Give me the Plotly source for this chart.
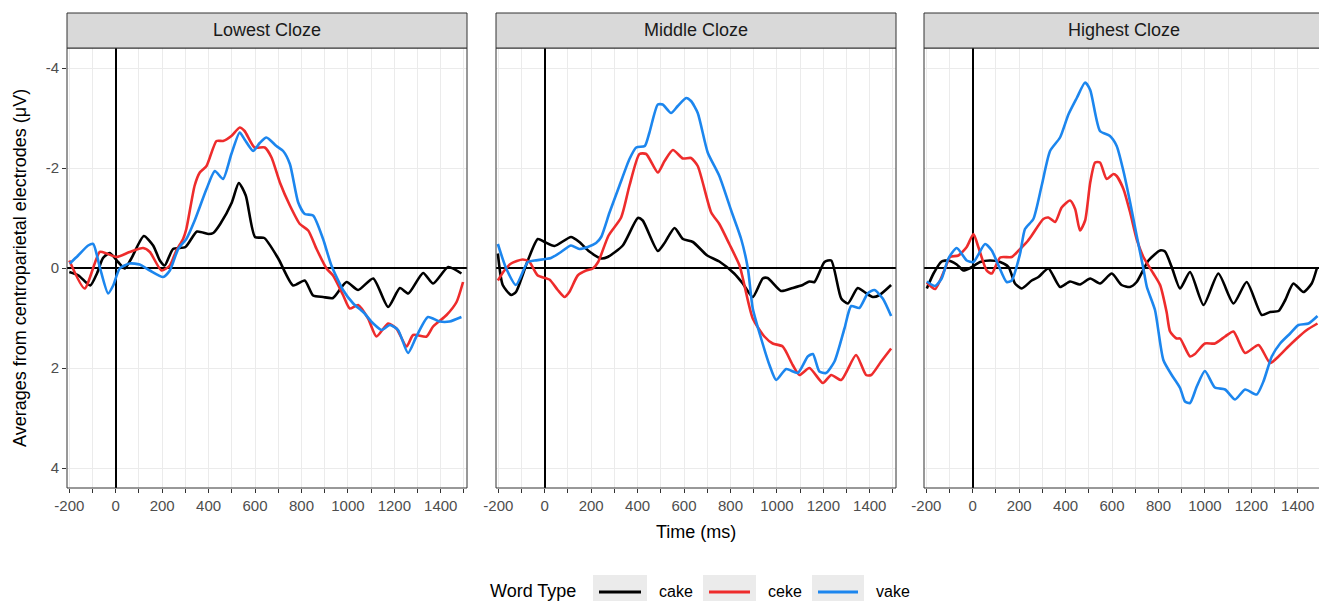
import plotly.graph_objects as go

# ---------------- data (time in ms, amplitude in microvolts) ----------------
panel_titles = ["Lowest Cloze", "Middle Cloze", "Highest Cloze"]
word_types = ["cake", "ceke", "vake"]
word_colors = ["#000000", "#EE2C2C", "#1C86EE"]

x_tick_values = list(range(-200, 1501, 100))
x_tick_labels = [str(v) if v % 200 == 0 and v <= 1400 else "" for v in x_tick_values]
y_tick_values = [-4, -2, 0, 2, 4]
y_tick_labels = ["-4", "-2", "0", "2", "4"]

# Lowest Cloze
low_cake_t = [-200, -160, -110, -80, -55, -26, 10, 39, 67, 121, 161, 190, 211, 247, 300, 350, 400, 420, 450, 500,
              530, 560, 600, 640, 700, 764, 814, 850, 893, 936, 994, 1044, 1109, 1173, 1224, 1260, 1324, 1367, 1432, 1489]
low_cake_v = [0.08, 0.15, 0.35, 0.1, -0.2, -0.3, -0.12, 0.01, -0.19, -0.64, -0.45, -0.15, -0.05, -0.38, -0.42, -0.73,
              -0.68, -0.7, -0.88, -1.31, -1.70, -1.45, -0.62, -0.6, -0.19, 0.35, 0.25, 0.55, 0.58, 0.6, 0.28, 0.44,
              0.21, 0.78, 0.4, 0.51, 0.1, 0.31, -0.02, 0.11]
low_ceke_t = [-200, -134, -69, -40, 3, 60, 118, 147, 197, 233, 261, 290, 304, 340, 362, 391, 434, 462, 498, 534,
              555, 598, 642, 671, 707, 750, 793, 829, 865, 908, 936, 979, 1008, 1044, 1087, 1123, 1173, 1209, 1253,
              1281, 1339, 1367, 1425, 1468, 1496]
low_ceke_v = [-0.15, 0.41, -0.32, -0.29, -0.22, -0.32, -0.4, -0.32, 0.05, -0.05, -0.35, -0.58, -0.78, -1.65, -1.91,
              -2.04, -2.54, -2.54, -2.64, -2.81, -2.74, -2.41, -2.41, -2.21, -1.71, -1.25, -0.88, -0.75, -0.38, 0.01,
              0.15, 0.54, 0.81, 0.74, 1.01, 1.37, 1.11, 1.21, 1.57, 1.34, 1.37, 1.17, 0.94, 0.68, 0.28]
low_vake_t = [-198, -162, -119, -97, -69, -33, -11, 17, 60, 103, 147, 204, 233, 269, 304, 340, 391, 427, 462, 498,
              534, 555, 592, 620, 649, 692, 721, 750, 786, 814, 850, 893, 929, 979, 1023, 1066, 1109, 1145, 1181,
              1216, 1259, 1295, 1345, 1395, 1438, 1489]
low_vake_v = [-0.09, -0.25, -0.45, -0.48, -0.02, 0.51, 0.35, 0.01, -0.09, -0.07, 0.05, 0.18, 0.05, -0.38, -0.58,
              -0.95, -1.58, -1.94, -1.78, -2.28, -2.71, -2.57, -2.34, -2.5, -2.61, -2.44, -2.34, -2.08, -1.31, -1.08,
              -1.05, -0.58, -0.05, 0.44, 0.71, 0.88, 1.11, 1.24, 1.14, 1.24, 1.70, 1.37, 0.98, 1.07, 1.07, 0.98]

# Middle Cloze
mid_cake_t = [-202, -181, -145, -124, -73, -30, -1, 42, 113, 149, 192, 243, 271, 336, 401, 422, 487, 516, 559, 595,
              638, 700, 752, 816, 853, 896, 939, 960, 1018, 1068, 1111, 1140, 1162, 1205, 1234, 1277, 1306, 1348,
              1377, 1413, 1442, 1492]
mid_cake_v = [-0.29, 0.34, 0.54, 0.48, -0.15, -0.58, -0.52, -0.44, -0.62, -0.52, -0.33, -0.19, -0.22, -0.45, -1.0,
              -0.95, -0.34, -0.5, -0.8, -0.58, -0.52, -0.25, -0.13, 0.11, 0.31, 0.58, 0.21, 0.2, 0.46, 0.4, 0.34,
              0.27, 0.28, -0.12, -0.15, 0.61, 0.71, 0.4, 0.48, 0.58, 0.54, 0.34]
mid_ceke_t = [-202, -174, -145, -95, -66, -30, 20, 56, 85, 106, 142, 178, 207, 230, 275, 329, 365, 408, 437, 487,
              516, 552, 595, 630, 659, 717, 752, 795, 839, 853, 896, 946, 982, 1025, 1068, 1097, 1140, 1198, 1234,
              1277, 1341, 1384, 1406, 1449, 1492]
mid_ceke_v = [0.25, 0.05, -0.09, -0.17, -0.12, 0.15, 0.23, 0.44, 0.58, 0.48, 0.15, 0.05, 0.01, -0.12, -0.65, -1.01,
              -1.65, -2.28, -2.28, -1.91, -2.14, -2.36, -2.19, -2.2, -2.04, -1.11, -0.88, -0.48, -0.05, 0.2, 1.01,
              1.37, 1.51, 1.57, 1.94, 2.14, 2.0, 2.3, 2.14, 2.24, 1.74, 2.14, 2.14, 1.87, 1.61]
mid_vake_t = [-202, -166, -124, -73, -44, 27, 70, 113, 149, 185, 221, 243, 279, 322, 365, 394, 431, 451, 487, 508,
              544, 573, 609, 630, 659, 702, 752, 803, 846, 875, 896, 932, 968, 997, 1040, 1090, 1133, 1155, 1183,
              1211, 1248, 1291, 1320, 1355, 1391, 1420, 1456, 1492]
mid_vake_v = [-0.48, 0.01, 0.34, -0.12, -0.15, -0.2, -0.32, -0.45, -0.38, -0.42, -0.5, -0.62, -1.11, -1.65, -2.18,
              -2.41, -2.44, -2.71, -3.27, -3.27, -3.1, -3.24, -3.4, -3.34, -3.1, -2.31, -1.84, -1.15, -0.58, 0.01,
              0.81, 1.41, 1.94, 2.24, 2.02, 2.1, 1.77, 1.72, 2.07, 2.1, 1.87, 1.21, 0.76, 0.8, 0.51, 0.44, 0.61, 0.96]

# Highest Cloze
high_cake_t = [-198, -169, -134, -105, -69, -40, -11, 32, 75, 118, 154, 182, 211, 254, 283, 326, 376, 419, 462, 506,
               548, 599, 641, 677, 706, 757, 807, 828, 857, 893, 936, 994, 1058, 1123, 1180, 1245, 1281, 1317, 1346,
               1381, 1424, 1460, 1482]
high_cake_v = [0.41, 0.11, -0.13, -0.15, -0.07, 0.05, 0.0, -0.12, -0.15, -0.12, -0.02, 0.31, 0.41, 0.25, 0.18, 0.01,
               0.38, 0.27, 0.33, 0.21, 0.31, 0.11, 0.34, 0.38, 0.28, -0.15, -0.35, -0.33, -0.02, 0.41, 0.08, 0.74,
               0.11, 0.71, 0.28, 0.94, 0.88, 0.86, 0.64, 0.31, 0.48, 0.31, 0.01]
high_ceke_t = [-198, -162, -119, -98, -62, -26, 3, 24, 60, 82, 118, 168, 204, 233, 254, 304, 326, 355, 383, 419,
               441, 462, 484, 506, 527, 548, 577, 606, 620, 649, 678, 706, 735, 778, 807, 835, 850, 878, 893, 936,
               957, 1000, 1043, 1087, 1123, 1173, 1231, 1281, 1317, 1353, 1396, 1439, 1485]
high_ceke_v = [0.29, 0.42, 0.01, -0.22, -0.25, -0.42, -0.68, -0.42, 0.05, 0.11, -0.21, -0.22, -0.38, -0.52, -0.65,
               -0.98, -1.01, -0.92, -1.21, -1.35, -1.18, -0.75, -0.95, -1.71, -2.11, -2.11, -1.78, -1.88, -1.84, -1.58,
               -1.11, -0.58, -0.22, 0.11, 0.34, 0.88, 1.27, 1.41, 1.41, 1.77, 1.72, 1.51, 1.51, 1.37, 1.27, 1.7, 1.54,
               1.9, 1.77, 1.6, 1.41, 1.24, 1.11]
high_vake_t = [-198, -162, -134, -105, -69, -26, 3, 53, 82, 111, 146, 168, 204, 225, 261, 297, 333, 376, 412, 448,
               484, 506, 548, 591, 620, 649, 678, 706, 735, 750, 785, 821, 857, 893, 914, 936, 965, 1000, 1043, 1087,
               1130, 1173, 1223, 1252, 1288, 1324, 1367, 1403, 1446, 1485]
high_vake_v = [0.27, 0.36, 0.21, -0.19, -0.4, -0.15, -0.12, -0.48, -0.35, -0.05, 0.28, 0.25, -0.29, -0.78, -0.98,
               -1.65, -2.34, -2.61, -3.07, -3.4, -3.71, -3.56, -2.74, -2.64, -2.44, -1.94, -1.31, -0.65, 0.01, 0.38,
               0.84, 1.84, 2.14, 2.4, 2.67, 2.7, 2.37, 2.06, 2.39, 2.43, 2.63, 2.43, 2.53, 2.27, 1.77, 1.51, 1.31,
               1.14, 1.11, 0.96]

series = [
    [(low_cake_t, low_cake_v), (low_ceke_t, low_ceke_v), (low_vake_t, low_vake_v)],
    [(mid_cake_t, mid_cake_v), (mid_ceke_t, mid_ceke_v), (mid_vake_t, mid_vake_v)],
    [(high_cake_t, high_cake_v), (high_ceke_t, high_ceke_v), (high_vake_t, high_vake_v)],
]
for p in series:
    for t, v in p:
        assert len(t) == len(v), (len(t), len(v))

# ---------------- layout geometry (pixels) ----------------
W, H = 1319, 601
FONT = "Liberation Sans, Arial, Helvetica, sans-serif"
panel_px = [(67, 467), (496, 896), (924, 1324)]
PANEL_TOP, PANEL_BOT, STRIP_TOP = 48, 488, 13
X_LO, X_HI = -210, 1513
px_per_ms = (panel_px[0][1] - panel_px[0][0]) / (X_HI - X_LO)


def fx(p):
    return p / W


def fy(p):
    return 1 - p / H


fig = go.Figure()
shapes = []
annotations = []

for i, (title, (x0, x1)) in enumerate(zip(panel_titles, panel_px)):
    sfx = "" if i == 0 else str(i + 1)
    vis_x1 = min(x1, W)
    x_hi = X_LO + (vis_x1 - x0) / px_per_ms
    fig.update_layout(**{
        "xaxis" + sfx: dict(
            domain=[fx(x0), fx(vis_x1)], range=[X_LO, x_hi], anchor="y" + sfx,
            tickmode="array", tickvals=x_tick_values, ticktext=x_tick_labels,
            ticks="outside", ticklen=4, tickwidth=1, tickcolor="#333333",
            tickfont=dict(family=FONT, size=15, color="#4D4D4D"),
            showgrid=True, gridcolor="#EBEBEB", gridwidth=1.1,
            minor=dict(showgrid=False, ticks=""),
            zeroline=True, zerolinecolor="#000000", zerolinewidth=1.5,
            showline=False, fixedrange=True, automargin=False,
        ),
        "yaxis" + sfx: dict(
            domain=[fy(PANEL_BOT), fy(PANEL_TOP)], range=[4.4, -4.4], anchor="x" + sfx,
            tickmode="array", tickvals=y_tick_values, ticktext=y_tick_labels,
            ticks="outside" if i == 0 else "", ticklen=4, tickwidth=1, tickcolor="#333333",
            showticklabels=(i == 0),
            tickfont=dict(family=FONT, size=15, color="#4D4D4D"),
            showgrid=True, gridcolor="#EBEBEB", gridwidth=1.1,
            minor=dict(showgrid=False, ticks=""),
            zeroline=True, zerolinecolor="#000000", zerolinewidth=1.5,
            showline=False, fixedrange=True, automargin=False,
        ),
    })
    for (t, v), name, col in zip(series[i], word_types, word_colors):
        fig.add_trace(go.Scatter(
            x=t, y=v, mode="lines", name=name, legendgroup=name, showlegend=False,
            line=dict(color=col, width=2.6, shape="spline", smoothing=0.6),
            xaxis="x" + sfx, yaxis="y" + sfx,
        ))
    # panel border
    shapes.append(dict(type="rect", xref="paper", yref="paper", x0=fx(x0), x1=fx(x1),
                       y0=fy(PANEL_BOT), y1=fy(PANEL_TOP), line=dict(color="#333333", width=1),
                       fillcolor="rgba(0,0,0,0)", layer="above"))
    # strip
    shapes.append(dict(type="rect", xref="paper", yref="paper", x0=fx(x0), x1=fx(x1),
                       y0=fy(PANEL_TOP), y1=fy(STRIP_TOP), line=dict(color="#333333", width=1),
                       fillcolor="#D9D9D9", layer="above"))
    annotations.append(dict(text=title, xref="paper", yref="paper", x=fx((x0 + x1) / 2),
                            y=fy((STRIP_TOP + PANEL_TOP) / 2), showarrow=False, xanchor="center",
                            yanchor="middle", font=dict(family=FONT, size=18, color="#1A1A1A")))

# axis titles
annotations.append(dict(text="Time (ms)", xref="paper", yref="paper", x=fx(696), y=fy(532),
                        showarrow=False, xanchor="center", yanchor="middle",
                        font=dict(family=FONT, size=18, color="#000000")))
annotations.append(dict(text="Averages from centroparietal electrodes (μV)", xref="paper", yref="paper",
                        x=fx(20), y=fy((PANEL_TOP + PANEL_BOT) / 2), textangle=-90, showarrow=False,
                        xanchor="center", yanchor="middle",
                        font=dict(family=FONT, size=18, color="#000000")))

# legend (bottom, horizontal)
LEG_Y = 591
annotations.append(dict(text="Word Type", xref="paper", yref="paper", x=fx(488), y=fy(LEG_Y),
                        showarrow=False, xanchor="left", yanchor="middle",
                        font=dict(family=FONT, size=18, color="#000000")))
key_boxes = [(593, 647), (703, 756), (812, 864)]
for (bx0, bx1), name, col in zip(key_boxes, word_types, word_colors):
    shapes.append(dict(type="rect", xref="paper", yref="paper", x0=fx(bx0), x1=fx(bx1),
                       y0=fy(604), y1=fy(575), fillcolor="#EBEBEB", line=dict(width=0)))
    shapes.append(dict(type="line", xref="paper", yref="paper", x0=fx(bx0 + 6), x1=fx(bx1 - 6),
                       y0=fy(LEG_Y + 1), y1=fy(LEG_Y + 1), line=dict(color=col, width=3)))
    annotations.append(dict(text=name, xref="paper", yref="paper", x=fx(bx1 + 10), y=fy(LEG_Y),
                            showarrow=False, xanchor="left", yanchor="middle",
                            font=dict(family=FONT, size=16, color="#000000")))

fig.update_layout(
    template="none",
    width=W, height=H, margin=dict(l=0, r=0, t=0, b=0, pad=0, autoexpand=False),
    paper_bgcolor="white", plot_bgcolor="white",
    showlegend=False, shapes=shapes, annotations=annotations,
    font=dict(family=FONT),
)

fig.write_html("out.html",
               config={"displayModeBar": False, "staticPlot": False},
               post_script="document.body.style.margin='0';document.body.style.overflow='hidden';")
